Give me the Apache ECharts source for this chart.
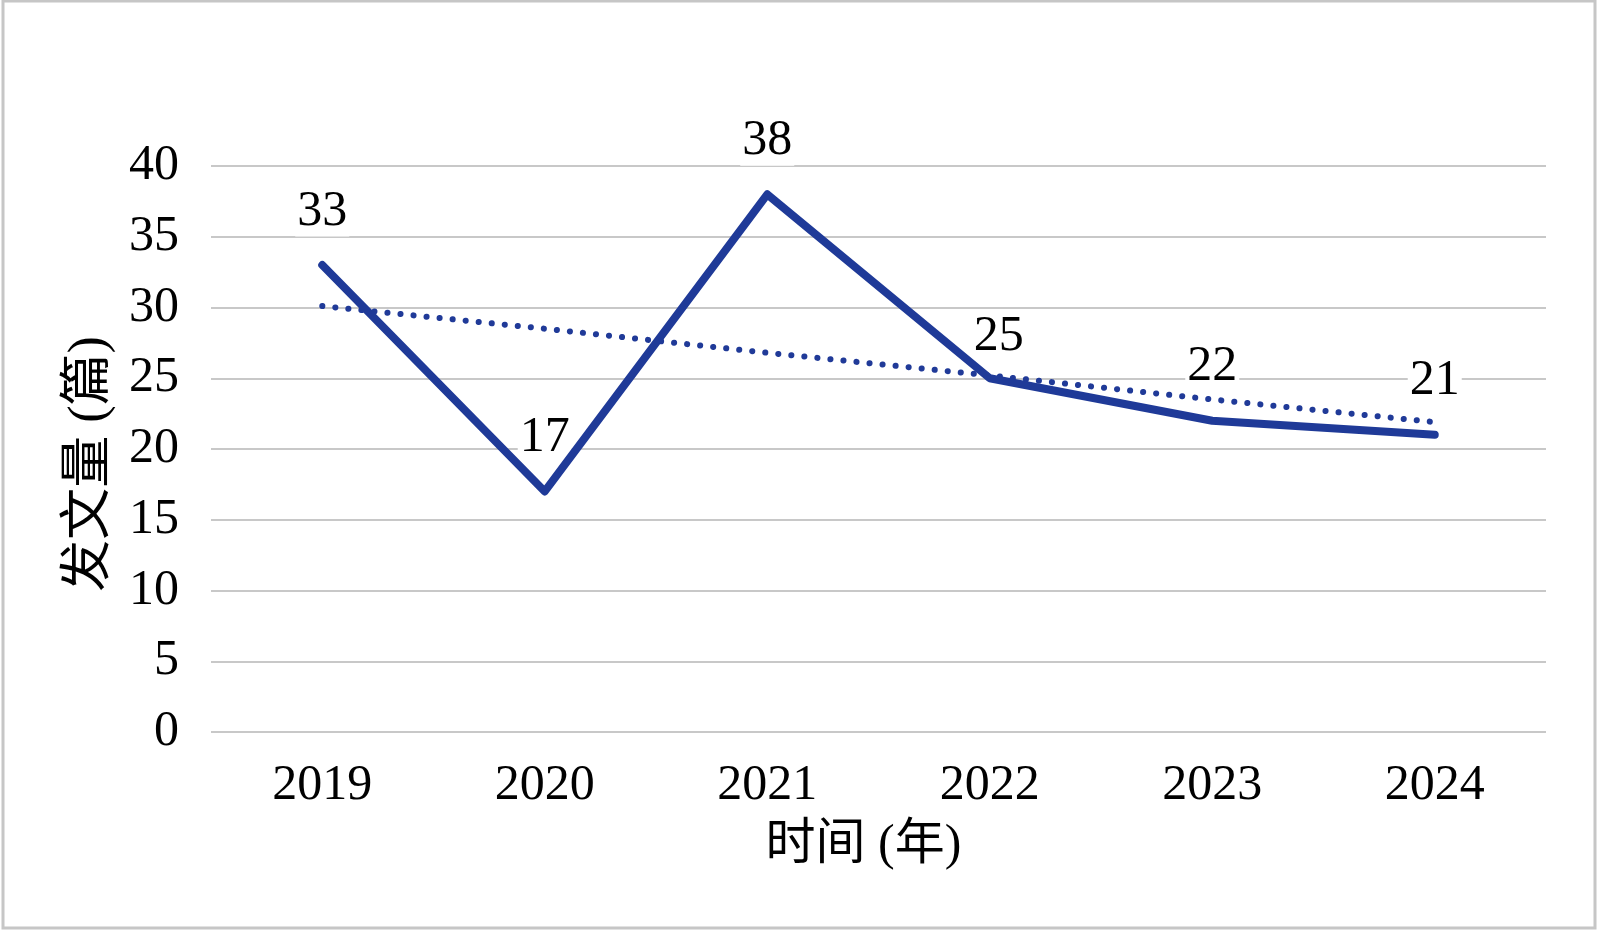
<!DOCTYPE html>
<html><head><meta charset="utf-8">
<script src="https://cdn.jsdelivr.net/npm/echarts@6/dist/echarts.min.js"></script>
<style>html,body{margin:0;padding:0;background:#fff}#c{width:1600px;height:937px}</style>
</head><body><div id="c"></div>
<script>
const years = ['2019','2020','2021','2022','2023','2024'];
const counts = [33, 17, 38, 25, 22, 21];
const trend = [30.1, 28.5, 26.8, 25.2, 23.5, 21.9];
const yTicks = {min: 0, max: 40, interval: 5};
const yName = '发文量 (篇)';
const xName = '时间 (年)';

const FONT = '"Liberation Serif", "Times New Roman", "Noto Sans CJK SC", serif';
const labelData = counts.map((v, i) => i === 3
  ? {value: v, label: {offset: [9, 12]}}
  : v);
const chart = echarts.init(document.getElementById('c'));
chart.setOption({
  backgroundColor: '#fff',
  animation: false,
  grid: {left: 211, right: 54, top: 166, bottom: 205},
  graphic: [{
    type: 'rect', shape: {x: 3, y: 1, width: 1592, height: 927},
    style: {fill: 'none', stroke: '#c6c6c6', lineWidth: 3}, z: -1
  }],
  xAxis: {
    type: 'category', data: years, boundaryGap: true,
    axisLine: {show: false}, axisTick: {show: false},
    axisLabel: {fontFamily: FONT, fontSize: 50, color: '#000', margin: 29},
    name: xName, nameLocation: 'middle', nameGap: 89,
    nameTextStyle: {fontFamily: FONT, fontSize: 50, color: '#000', padding: [0, 30, 0, 0]}
  },
  yAxis: {
    type: 'value', min: yTicks.min, max: yTicks.max, interval: yTicks.interval,
    axisLine: {show: false}, axisTick: {show: false},
    splitLine: {lineStyle: {color: '#c8c8c8', width: 2}},
    axisLabel: {fontFamily: FONT, fontSize: 50, color: '#000', margin: 32},
    name: yName, nameLocation: 'middle', nameGap: 95, nameRotate: 90,
    nameTextStyle: {fontFamily: FONT, fontSize: 52, color: '#000', padding: [0, 30, 0, 0]}
  },
  series: [
    {
      type: 'line', data: labelData, symbol: 'circle', symbolSize: 1, z: 1,
      itemStyle: {color: 'rgba(255,255,255,0)'},
      lineStyle: {color: 'rgba(255,255,255,0)', width: 0}, silent: true,
      label: {
        show: true, position: 'top', distance: 28,
        fontFamily: FONT, fontSize: 50, color: '#000',
        backgroundColor: '#fff', padding: [0, 2]
      }
    },
    {
      type: 'line', data: trend, symbol: 'none', z: 2,
      lineStyle: {color: '#203a98', width: 6, type: [0.1, 13], cap: 'round'}
    },
    {
      type: 'line', data: counts, symbol: 'none', z: 3,
      lineStyle: {color: '#1f3a98', width: 8, cap: 'round', join: 'round'}
    }
  ]
});
</script></body></html>
